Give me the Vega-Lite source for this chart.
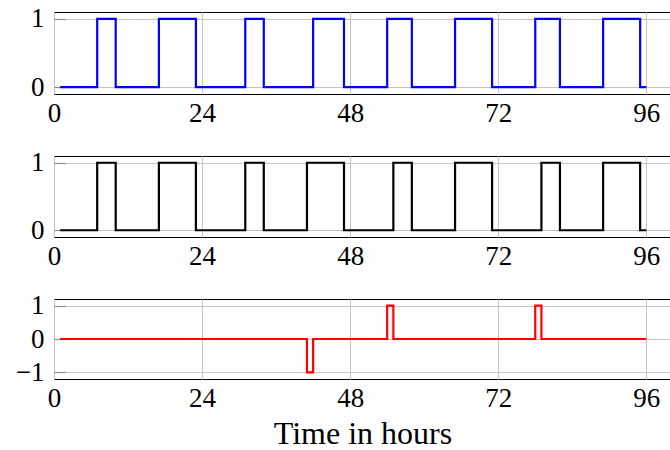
{
  "$schema": "https://vega.github.io/schema/vega-lite/v6.json",
  "padding": {"left": 14, "top": 4, "right": 0, "bottom": 0},
  "config": {
    "font": "Liberation Serif",
    "view": {"stroke": "#000", "strokeWidth": 1},
    "axis": {
      "labelFont": "Liberation Serif",
      "labelFontSize": 27,
      "labelColor": "#000",
      "labelFlush": false,
      "labelOverlap": false,
      "domain": false,
      "ticks": false,
      "gridColor": "#c4c4c4",
      "gridWidth": 1,
      "titleFont": "Liberation Serif",
      "titleFontWeight": "normal",
      "titleColor": "#000"
    },
    "axisY": {"ticks": true, "tickSize": -11, "tickColor": "#8c8c8c", "tickWidth": 1.2}
  },
  "datasets": {
    "blue": [
      {"t": 1, "v": 0}, {"t": 7, "v": 1}, {"t": 10, "v": 0}, {"t": 17, "v": 1}, {"t": 23, "v": 0},
      {"t": 31, "v": 1}, {"t": 34, "v": 0}, {"t": 42, "v": 1}, {"t": 47, "v": 0}, {"t": 54, "v": 1},
      {"t": 58, "v": 0}, {"t": 65, "v": 1}, {"t": 71, "v": 0}, {"t": 78, "v": 1}, {"t": 82, "v": 0},
      {"t": 89, "v": 1}, {"t": 95, "v": 0}, {"t": 96, "v": 0}
    ],
    "black": [
      {"t": 1, "v": 0}, {"t": 7, "v": 1}, {"t": 10, "v": 0}, {"t": 17, "v": 1}, {"t": 23, "v": 0},
      {"t": 31, "v": 1}, {"t": 34, "v": 0}, {"t": 41, "v": 1}, {"t": 47, "v": 0}, {"t": 55, "v": 1},
      {"t": 58, "v": 0}, {"t": 65, "v": 1}, {"t": 71, "v": 0}, {"t": 79, "v": 1}, {"t": 82, "v": 0},
      {"t": 89, "v": 1}, {"t": 95, "v": 0}, {"t": 96, "v": 0}
    ],
    "red": [
      {"t": 1, "v": 0}, {"t": 41, "v": -1}, {"t": 42, "v": 0}, {"t": 54, "v": 1}, {"t": 55, "v": 0},
      {"t": 78, "v": 1}, {"t": 79, "v": 0}, {"t": 96, "v": 0}
    ]
  },
  "bounds": "flush",
  "spacing": 62,
  "vconcat": [
    {
      "width": 617, "height": 82,
      "data": {"name": "blue"},
      "mark": {"type": "line", "interpolate": "step-after", "color": "#0000ff", "strokeWidth": 2.2},
      "encoding": {
        "x": {"field": "t", "type": "quantitative", "scale": {"domain": [0, 100], "nice": false},
              "axis": {"values": [0, 24, 48, 72, 96], "title": null, "labelPadding": 6}},
        "y": {"field": "v", "type": "quantitative", "scale": {"domain": [-0.1, 1.1], "nice": false, "zero": false},
              "axis": {"values": [0, 1], "format": "d", "title": null, "labelPadding": 21}}
      }
    },
    {
      "width": 617, "height": 81,
      "data": {"name": "black"},
      "mark": {"type": "line", "interpolate": "step-after", "color": "#000000", "strokeWidth": 2.2},
      "encoding": {
        "x": {"field": "t", "type": "quantitative", "scale": {"domain": [0, 100], "nice": false},
              "axis": {"values": [0, 24, 48, 72, 96], "title": null, "labelPadding": 6}},
        "y": {"field": "v", "type": "quantitative", "scale": {"domain": [-0.1, 1.1], "nice": false, "zero": false},
              "axis": {"values": [0, 1], "format": "d", "title": null, "labelPadding": 21}}
      }
    },
    {
      "width": 617, "height": 80,
      "data": {"name": "red"},
      "mark": {"type": "line", "interpolate": "step-after", "color": "#ff0000", "strokeWidth": 2.2},
      "encoding": {
        "x": {"field": "t", "type": "quantitative", "scale": {"domain": [0, 100], "nice": false},
              "axis": {"values": [0, 24, 48, 72, 96], "title": "Time in hours", "titleFontSize": 32, "titlePadding": 7, "labelPadding": 6}},
        "y": {"field": "v", "type": "quantitative", "scale": {"domain": [-1.2, 1.2], "nice": false, "zero": false},
              "axis": {"values": [-1, 0, 1], "format": "d", "title": null, "labelPadding": 21}}
      }
    }
  ]
}
